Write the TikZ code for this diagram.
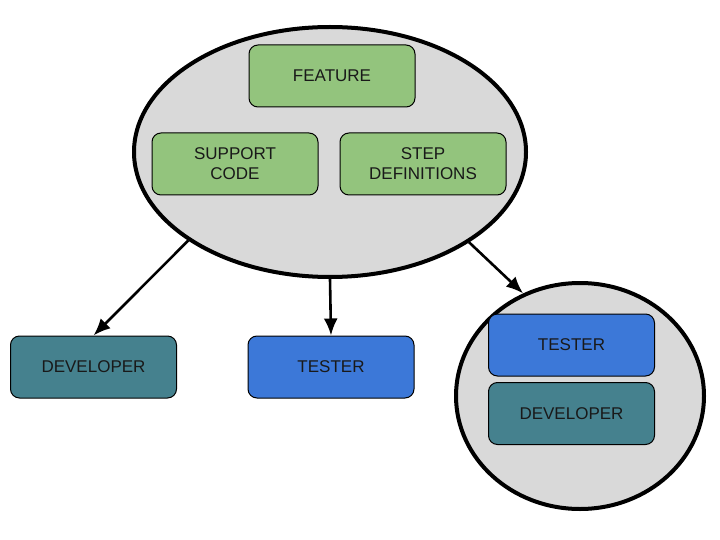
\documentclass[tikz,border=0pt]{standalone}
\usepackage{fontspec}
\setmainfont{Liberation Sans}
\usetikzlibrary{shapes.geometric,arrows.meta}
\definecolor{gfill}{HTML}{93C47D}
\definecolor{tfill}{HTML}{45818E}
\definecolor{bfill}{HTML}{3C78D8}
\definecolor{efill}{HTML}{D9D9D9}
\begin{document}
\begin{tikzpicture}[x=1pt,y=-1pt,
  box/.style={draw=black, line width=1pt, rounded corners=9pt, minimum width=166pt, minimum height=62pt, inner sep=0pt, align=center, font=\fontsize{17}{20}\selectfont, text=black!90},
  grn/.style={box, fill=gfill},
  teal/.style={box, fill=tfill},
  blu/.style={box, fill=bfill},
  cloud/.style={ellipse, draw=black, line width=4pt, fill=efill, inner sep=0pt},
  arr/.style={line width=2.6pt, -{Latex[length=17pt,width=14pt]}}]
\useasboundingbox (0,0) rectangle (720,540);
\node[cloud, minimum width=392pt, minimum height=250pt] (top) at (330,152) {};
\node[grn] (feature) at (332,76) {FEATURE};
\node[grn] (support) at (235,164) {SUPPORT\\CODE};
\node[grn] (step) at (423,164) {STEP\\DEFINITIONS};
\node[teal] (dev1) at (93.5,367) {DEVELOPER};
\node[blu] (tester) at (331,367) {TESTER};
\node[cloud, minimum width=248pt, minimum height=226pt] (pair) at (580,396) {};
\node[blu] (tester2) at (571.5,345) {TESTER};
\node[teal] (dev2) at (571.5,413.5) {DEVELOPER};
\draw[arr] (top.212) -- (dev1.north);
\draw[arr] (top.south) -- (tester.north);
\draw[arr] (top.-33) -- (pair.119);
\end{tikzpicture}
\end{document}
